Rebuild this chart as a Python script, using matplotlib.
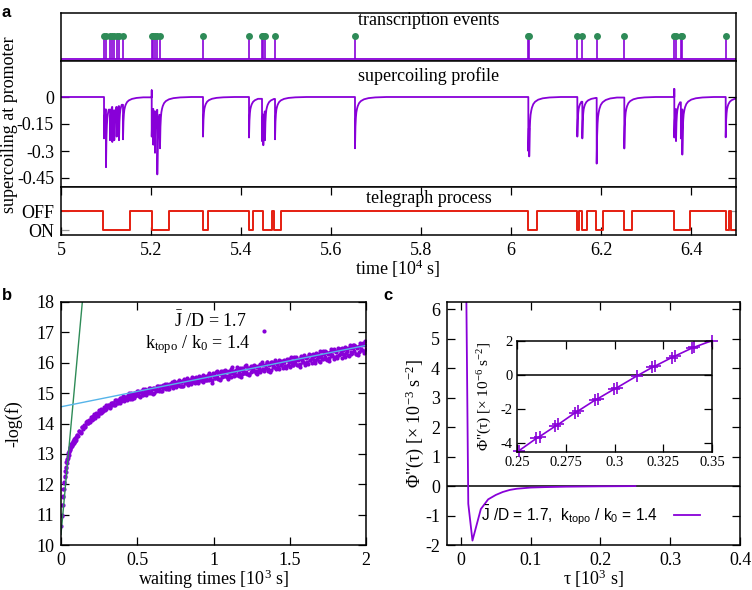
import numpy as np
import matplotlib
matplotlib.use("Agg")
from matplotlib import pyplot as plt

plt.rcParams["font.family"] = "Liberation Serif"
plt.rcParams["font.size"] = 13
plt.rcParams["mathtext.fontset"] = "custom"
plt.rcParams["mathtext.rm"] = "Liberation Serif"
plt.rcParams["mathtext.it"] = "Liberation Serif:italic"
plt.rcParams["mathtext.sf"] = "Liberation Sans"
plt.rcParams["axes.unicode_minus"] = False
plt.rcParams["axes.linewidth"] = 1.1

PURPLE = "#8800d8"
GREEN = "#2e8b57"
RED = "#e51e10"
SKY = "#56b4e9"

# ---- panel a: transcription events [10^4 s] and depth of the supercoiling dip each one causes
event_times = [5.0956, 5.1000, 5.1089, 5.1140, 5.1184, 5.1238, 5.1289, 5.1378,
               5.2016, 5.2051, 5.2089, 5.2140, 5.2200,
               5.3156,
               5.4178, 5.4467, 5.4496, 5.4533, 5.4756,
               5.6533,
               6.0385, 6.0405,
               6.1474, 6.1585, 6.1904, 6.2518,
               6.3629, 6.3667, 6.3775, 6.3807,
               6.4771]
dip_depths = [-0.23, -0.39, -0.24, -0.25, -0.24, -0.22, -0.24, -0.235,
              -0.22, -0.265, -0.31, -0.43, -0.285,
              -0.22,
              -0.225, -0.245, -0.268, -0.24, -0.235,
              -0.285,
              -0.30, -0.33,
              -0.22, -0.23, -0.37, -0.286,
              -0.225, -0.245, -0.23, -0.32,
              -0.224]
spike_times = [5.2016, 6.3629]
spike_heights = [0.037, 0.045]
# shape of the relaxation after a dip (lag in 10^4 s, fraction of the dip left)
relax_lags = [0, 0.0005, 0.001, 0.002, 0.003, 0.0045, 0.006, 0.009, 0.013, 0.02, 0.03, 0.045, 0.07]
relax_fractions = [1, 0.75, 0.58, 0.4, 0.3, 0.23, 0.18, 0.12, 0.08, 0.045, 0.022, 0.008, 0]

# telegraph process: 1 = OFF, 0 = ON
switch_times = [5.0, 5.0926, 5.153, 5.2025, 5.241, 5.3156, 5.326, 5.4178, 5.4274, 5.4482, 5.4696,
                5.4726, 5.4882, 6.037, 6.058, 6.146, 6.152, 6.158, 6.168, 6.189, 6.204,
                6.251, 6.268, 6.363, 6.398, 6.477, 6.484, 6.489, 6.5]
switch_states = [1, 0, 1, 0, 1, 0, 1, 0, 1, 0, 1,
                 0, 1, 0, 1, 0, 1, 0, 1, 0, 1,
                 0, 1, 0, 1, 0, 1, 0, 0]

time_ticks = [5, 5.2, 5.4, 5.6, 5.8, 6, 6.2, 6.4]
time_labels = ["5", "5.2", "5.4", "5.6", "5.8", "6", "6.2", "6.4"]
sc_ticks = [0, -0.15, -0.3, -0.45]
sc_labels = ["0", "-0.15", "-0.3", "-0.45"]

# ---- panel b: waiting time distribution, -log(f) per bin [10^3 s]
early_wait = np.arange(1, 51) * 0.002
early_logf = [10.62, 10.95, 11.00, 11.31, 11.33, 11.60, 11.58, 11.85, 11.86, 12.07,
              12.05, 12.27, 12.24, 12.45, 12.41, 12.58, 12.55, 12.72, 12.69, 12.83,
              12.80, 12.93, 12.88, 13.02, 12.97, 13.10, 13.05, 13.17, 13.12, 13.23,
              13.18, 13.28, 13.22, 13.33, 13.27, 13.37, 13.30, 13.40, 13.34, 13.44,
              13.37, 13.46, 13.40, 13.49, 13.42, 13.51, 13.44, 13.53, 13.47, 13.55]
late_wait = 0.104 + np.arange(238) * 0.008
late_logf = [13.63, 13.59, 13.75, 13.70, 13.88, 13.83, 13.94, 13.91, 14.08, 14.02,
             14.13, 14.06, 14.22, 14.16, 14.30, 14.22, 14.33, 14.25, 14.42, 14.36,
             14.49, 14.38, 14.49, 14.43, 14.61, 14.53, 14.62, 14.52, 14.69, 14.60,
             14.69, 14.61, 14.78, 14.67, 14.78, 14.67, 14.84, 14.77, 14.90, 14.77,
             14.86, 14.77, 14.94, 14.84, 15.00, 14.84, 14.95, 14.84, 15.01, 14.94,
             15.06, 14.90, 15.04, 14.95, 15.12, 15.00, 15.11, 14.95, 15.08, 15.00,
             15.17, 15.04, 15.16, 15.00, 15.15, 15.07, 15.25, 15.11, 15.24, 15.08,
             15.23, 15.17, 15.30, 15.13, 15.26, 15.12, 15.31, 15.22, 15.38, 15.20,
             15.30, 15.19, 15.38, 15.26, 15.43, 15.25, 15.39, 15.23, 15.45, 15.34,
             15.44, 15.28, 15.43, 15.33, 15.53, 15.36, 15.50, 15.32, 15.47, 15.37,
             15.55, 15.42, 15.53, 15.36, 15.58, 15.43, 15.54, 15.42, 15.65, 15.50,
             15.60, 15.43, 15.60, 15.49, 15.68, 15.53, 15.66, 15.47, 15.63, 15.53,
             15.73, 15.57, 15.72, 15.54, 15.69, 15.58, 15.79, 15.65, 15.74, 15.56,
             15.74, 15.61, 15.80, 15.66, 15.83, 15.62, 15.78, 15.66, 15.88, 15.71,
             15.83, 15.63, 15.82, 15.68, 15.90, 15.74, 15.89, 15.66, 15.85, 15.74,
             15.95, 15.77, 15.94, 15.73, 15.92, 15.83, 16.01, 15.78, 15.96, 15.77,
             16.01, 15.86, 16.01, 15.78, 15.97, 15.86, 16.10, 15.91, 16.06, 15.84,
             16.03, 15.89, 16.12, 15.93, 16.11, 15.85, 16.06, 15.93, 16.19, 16.00,
             16.13, 15.91, 16.13, 15.97, 16.23, 16.02, 16.19, 15.94, 16.16, 16.03,
             16.29, 16.09, 16.25, 16.00, 16.23, 16.06, 16.31, 16.12, 16.28, 16.03,
             16.26, 16.13, 16.38, 16.18, 16.34, 16.09, 16.33, 16.15, 16.44, 16.24,
             16.40, 16.13, 16.36, 16.22, 16.50, 16.26, 16.44, 16.17, 16.42, 16.26,
             16.52, 16.32, 16.50, 16.21, 16.48, 16.28, 16.60, 16.38, 16.56, 16.28,
             16.51, 16.36, 16.64, 16.41, 16.60, 16.33, 16.70, 16.45]
mid_wait = 0.108 + np.arange(237) * 0.008
mid_logf = [13.63, 13.74, 13.72, 13.73, 13.89, 13.90, 13.90, 14.06, 14.02, 14.03,
            14.13, 14.21, 14.13, 14.24, 14.17, 14.32, 14.31, 14.32, 14.44, 14.36,
            14.46, 14.40, 14.53, 14.49, 14.55, 14.62, 14.56, 14.54, 14.67, 14.66,
            14.62, 14.76, 14.70, 14.69, 14.77, 14.83, 14.74, 14.83, 14.74, 14.88,
            14.85, 14.82, 14.99, 14.82, 14.95, 14.82, 15.01, 14.91, 14.98, 15.06,
            14.93, 14.88, 15.06, 15.02, 14.94, 15.15, 15.02, 14.99, 15.10, 15.17,
            14.99, 15.13, 14.98, 15.18, 15.12, 15.09, 15.25, 15.08, 15.21, 15.07,
            15.26, 15.16, 15.22, 15.30, 15.17, 15.12, 15.30, 15.26, 15.18, 15.39,
            15.26, 15.23, 15.34, 15.41, 15.23, 15.36, 15.22, 15.42, 15.36, 15.33,
            15.49, 15.32, 15.44, 15.30, 15.49, 15.39, 15.45, 15.52, 15.39, 15.34,
            15.52, 15.48, 15.39, 15.60, 15.47, 15.44, 15.55, 15.61, 15.43, 15.56,
            15.34, 15.65, 15.55, 15.50, 15.74, 15.47, 15.66, 15.44, 15.72, 15.57,
            15.65, 15.76, 15.56, 15.48, 15.74, 15.67, 15.54, 15.85, 15.65, 15.59,
            15.75, 15.85, 15.57, 15.75, 15.52, 15.83, 15.73, 15.67, 15.91, 15.64,
            15.83, 15.61, 15.89, 15.73, 15.81, 15.93, 15.72, 15.64, 15.90, 15.84,
            15.71, 16.02, 15.81, 15.76, 15.92, 16.02, 15.74, 15.93, 15.70, 16.01,
            15.91, 15.86, 16.09, 15.82, 16.01, 15.79, 16.07, 15.91, 15.99, 16.10,
            15.90, 15.82, 16.08, 16.01, 15.88, 16.19, 15.99, 15.93, 16.09, 16.19,
            15.91, 16.10, 15.87, 16.18, 16.08, 16.03, 16.26, 16.00, 16.19, 15.97,
            16.25, 16.09, 16.17, 16.29, 16.09, 16.00, 16.27, 16.20, 16.07, 16.38,
            16.18, 16.13, 16.28, 16.38, 16.11, 16.29, 16.06, 16.37, 16.27, 16.22,
            16.45, 16.19, 16.38, 16.16, 16.44, 16.28, 16.37, 16.48, 16.28, 16.20,
            16.46, 16.39, 16.26, 16.57, 16.37, 16.32, 16.48, 16.57, 16.30, 16.49,
            16.25, 16.56, 16.46, 16.41, 16.65, 16.38, 16.57]
outlier_wait = [1.33]
outlier_logf = [17.05]
fast_fit_x = [0.0, 0.16]
fast_fit_y = [10.35, 19.1]
slow_fit_x = [0.0, 2.0]
slow_fit_y = [14.55, 16.57]

# ---- panel c: second derivative of the potential
tau = [0.0075, 0.0105, 0.0165, 0.0285, 0.039, 0.05, 0.06, 0.07, 0.08, 0.1, 0.12, 0.15, 0.2, 0.25]
phi2 = [7.0, -0.6, -1.85, -0.78, -0.45, -0.30, -0.2, -0.13, -0.09, -0.05, -0.035, -0.02, -0.008, 0.0]
tau_inset = [0.2508, 0.2599, 0.2616, 0.2697, 0.2712, 0.2797, 0.2812, 0.2900, 0.2915, 0.2998,
             0.3012, 0.3115, 0.3193, 0.3208, 0.3293, 0.3308, 0.3395, 0.3410, 0.3500]
phi2_inset = [-4.49, -3.75, -3.64, -3.02, -2.92, -2.24, -2.14, -1.49, -1.40, -0.84,
              -0.76, -0.06, 0.44, 0.52, 1.02, 1.10, 1.57, 1.64, 2.02]


def style_ticks(ax, **kw):
    ax.tick_params(direction="in", length=6, width=0.9, top=True, right=True, **kw)


fig = plt.figure(figsize=(7.52, 5.90), dpi=100)
W, H = 752.0, 590.0


def box(l, t, r, b):
    return [l / W, 1 - b / H, (r - l) / W, (b - t) / H]


# ---- panel a
ax_ev = fig.add_axes(box(61, 13, 736, 61))
ax_sc = fig.add_axes(box(61, 61, 736, 187))
ax_tg = fig.add_axes(box(61, 187, 736, 235))

ax_ev.axhline(0, color=PURPLE, lw=1.3)
ax_ev.vlines(event_times, 0, 1, color=PURPLE, lw=1.2)
ax_ev.plot(event_times, np.ones(len(event_times)), "o", color=GREEN, ms=5, mec="none")
ax_ev.set_xlim(5, 6.5)
ax_ev.set_ylim(-0.1, 2.0)
ax_ev.set_xticks([])
ax_ev.set_yticks([])
ax_ev.text(0.544, 0.85, "transcription events", transform=ax_ev.transAxes, ha="center", va="center")

# build the profile: sudden dip at each event, then relaxation until the next one
spikes = dict(zip(spike_times, spike_heights))
prof_t, prof_s = [5.0], [0.0]
for i, (t0, depth) in enumerate(zip(event_times, dip_depths)):
    t_next = event_times[i + 1] if i + 1 < len(event_times) else 6.6
    prof_t.append(t0)
    prof_s.append(prof_s[-1])
    if t0 in spikes:
        prof_t.append(t0)
        prof_s.append(spikes[t0])
    for lag, frac in zip(relax_lags, relax_fractions):
        if t0 + lag >= t_next:
            break
        prof_t.append(t0 + lag)
        prof_s.append(depth * frac)
prof_t.append(6.6)
prof_s.append(prof_s[-1])

ax_sc.plot(prof_t, prof_s, color=PURPLE, lw=1.3)
ax_sc.set_xlim(5, 6.5)
ax_sc.set_ylim(-0.5, 0.2)
ax_sc.set_xticks([])
ax_sc.set_yticks(sc_ticks)
ax_sc.set_yticklabels(sc_labels)
style_ticks(ax_sc, pad=5)
ax_sc.text(0.544, 0.88, "supercoiling profile", transform=ax_sc.transAxes, ha="center", va="center")

ax_tg.step(switch_times, switch_states, where="post", color=RED, lw=1.4)
ax_tg.set_xlim(5, 6.5)
ax_tg.set_ylim(-0.26, 2.26)
ax_tg.set_xticks(time_ticks)
ax_tg.set_xticklabels(time_labels)
ax_tg.set_yticks([0, 1])
ax_tg.set_yticklabels(["ON", "OFF"])
style_ticks(ax_tg, pad=5)
ax_tg.tick_params(axis="y", color="#999999")
ax_tg.text(0.545, 0.77, "telegraph process", transform=ax_tg.transAxes, ha="center", va="center")

fig.text(10 / W, 1 - 125 / H, "supercoiling at promoter", rotation=90, ha="center", va="center")
fig.text(398 / W, 1 - 269 / H, "time [10$^{4}$ s]", ha="center", va="center")
fig.text(2 / W, 1 - 5 / H, "a", family="Liberation Sans", weight="bold", fontsize=12, va="top")

# ---- panel b
ax_b = fig.add_axes(box(61, 302, 366, 545))
for wx, wy in [(early_wait, early_logf), (late_wait, late_logf), (mid_wait, mid_logf),
               (outlier_wait, outlier_logf)]:
    ax_b.plot(wx, wy, "o", color=PURPLE, ms=3.0, mec="none")
ax_b.plot(fast_fit_x, fast_fit_y, color=GREEN, lw=1.0)
ax_b.plot(slow_fit_x, slow_fit_y, color=SKY, lw=1.0)
ax_b.set_xlim(0, 2)
ax_b.set_ylim(10, 18)
ax_b.set_xticks([0, 0.5, 1, 1.5, 2])
ax_b.set_xticklabels(["0", "0.5", "1", "1.5", "2"])
ax_b.set_yticks(range(10, 19))
style_ticks(ax_b, pad=5)
ax_b.set_xlabel("waiting times [10$^{3}$ s]")
ax_b.xaxis.set_label_coords(0.5, -0.092)
ax_b.set_ylabel("-log(f)")
ax_b.yaxis.set_label_coords(-0.128, 0.5)
fig.text(210 / W, 1 - 321 / H, r"$\bar{\mathrm{J}}$ /D = 1.7", ha="center", va="center")
fig.text(198 / W, 1 - 345 / H, r"k$_{\mathrm{topo}}$ / k$_{0}$ = 1.4", ha="center", va="center")
fig.text(2 / W, 1 - 288 / H, "b", family="Liberation Sans", weight="bold", fontsize=12, va="top")

# ---- panel c
ax_c = fig.add_axes(box(447, 302, 740, 545))
ax_c.axhline(0, color="black", lw=1.1)
ax_c.plot(tau, phi2, color=PURPLE, lw=1.3,
          label=r"$\mathsf{\bar{J}}$ /D = 1.7,  k$_{\mathsf{topo}}$ / k$_{\mathsf{0}}$ = 1.4")
ax_c.set_xlim(-0.02, 0.4)
ax_c.set_ylim(-2, 6.25)
ax_c.set_xticks([0, 0.1, 0.2, 0.3, 0.4])
ax_c.set_xticklabels(["0", "0.1", "0.2", "0.3", "0.4"])
ax_c.set_yticks(range(-2, 7))
style_ticks(ax_c, pad=5)
ax_c.set_xlabel("τ [10$^{3}$ s]")
ax_c.xaxis.set_label_coords(0.5, -0.092)
ax_c.set_ylabel("Φ\"(τ) [× 10$^{-3}$ s$^{-2}$]")
ax_c.yaxis.set_label_coords(-0.07, 0.5)
ax_c.legend(loc="center right", bbox_to_anchor=(700 / W, 1 - 515 / H), bbox_transform=fig.transFigure,
            frameon=False, prop={"family": "Liberation Sans", "size": 11.2}, handlelength=1.7,
            handletextpad=1.0, borderpad=0, borderaxespad=0, markerfirst=False)
fig.text(383 / W, 1 - 288 / H, "c", family="Liberation Sans", weight="bold", fontsize=12, va="top")

ax_in = fig.add_axes(box(517, 341, 712, 452))
ax_in.axhline(0, color="black", lw=1.1)
ax_in.plot(tau_inset, phi2_inset, color=PURPLE, lw=1.2, marker="+", ms=9, mew=1.2, clip_on=False)
ax_in.set_xlim(0.25, 0.35)
ax_in.set_ylim(-4.55, 2.0)
ax_in.set_xticks([0.25, 0.275, 0.3, 0.325, 0.35])
ax_in.set_xticklabels(["0.25", "0.275", "0.3", "0.325", "0.35"], fontsize=10.5)
ax_in.set_yticks([-4, -2, 0, 2])
ax_in.set_yticklabels(["-4", "-2", "0", "2"], fontsize=10.5)
style_ticks(ax_in, pad=3)
ax_in.set_ylabel("Φ\"(τ) [× 10$^{-6}$ s$^{-2}$]", fontsize=11)
ax_in.yaxis.set_label_coords(-0.12, 0.5)

fig.savefig("out.png", dpi=100)
